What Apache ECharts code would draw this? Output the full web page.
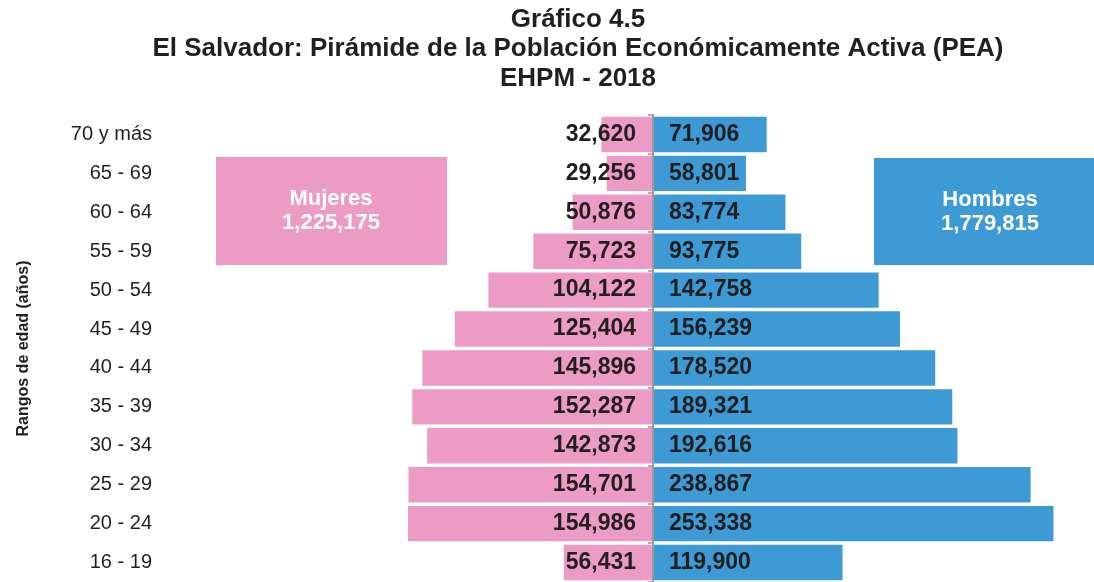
<!DOCTYPE html>
<html>
<head>
<meta charset="utf-8">
<script src="https://cdn.jsdelivr.net/npm/echarts@6/dist/echarts.min.js"></script>
<style>
  html, body { margin: 0; padding: 0; background: #fff; }
  #chart { width: 1094px; height: 582px; }
</style>
</head>
<body>
<div id="chart"></div>
<script>
// rangos de edad, de arriba hacia abajo
var categories = ['70 y más', '65 - 69', '60 - 64', '55 - 59', '50 - 54', '45 - 49',
  '40 - 44', '35 - 39', '30 - 34', '25 - 29', '20 - 24', '16 - 19'];
var mujeres = [32620, 29256, 50876, 75723, 104122, 125404, 145896, 152287, 142873, 154701, 154986, 56431];
var hombres = [71906, 58801, 83774, 93775, 142758, 156239, 178520, 189321, 192616, 238867, 253338, 119900];

var pink = '#ec9bc4';
var blue = '#3e9ad5';
var dark = '#231f20';
var font = 'Liberation Sans, Arial, sans-serif';

function fmt (v) {
  return Math.abs(v).toLocaleString('en-US');
}
var totalM = mujeres.reduce(function (a, b) { return a + b; }, 0);
var totalH = hombres.reduce(function (a, b) { return a + b; }, 0);

var chart = echarts.init(document.getElementById('chart'));
var option = {
  animation: false,
  title: {
    text: 'Gráfico 4.5\nEl Salvador: Pirámide de la Población Económicamente Activa (PEA)\nEHPM - 2018',
    left: 573,
    textAlign: 'center',
    top: 0,
    textStyle: {
      fontFamily: font,
      fontWeight: 'bold',
      fontSize: 26,
      lineHeight: 29.5,
      color: dark
    }
  },
  grid: {
    left: 242,
    right: 30,
    top: 115,
    bottom: -7
  },
  xAxis: {
    type: 'value',
    min: -260000,
    max: 260000,
    show: false
  },
  yAxis: [
    {
      type: 'category',
      data: categories,
      inverse: true,
      axisLine: { show: false, onZero: false },
      axisTick: { show: false },
      axisLabel: {
        margin: 90,
        fontFamily: font,
        fontSize: 20,
        color: dark
      },
      name: 'Rangos de edad (años)',
      nameLocation: 'middle',
      nameGap: 210,
      nameRotate: 90,
      nameTextStyle: {
        fontFamily: font,
        fontWeight: 'bold',
        fontSize: 16,
        color: dark
      }
    },
    {
      // linea central con marcas
      type: 'category',
      data: categories,
      inverse: true,
      position: 'left',
      offset: -411,
      z: 5,
      axisLine: { show: true, onZero: false, lineStyle: { color: '#999999', width: 2 } },
      axisTick: { show: true, length: 5, lineStyle: { color: '#999999', width: 1.5 } },
      axisLabel: { show: false }
    }
  ],
  series: [
    {
      name: 'Mujeres',
      type: 'bar',
      stack: 'pea',
      barCategoryGap: '9%',
      data: mujeres.map(function (v) { return -v; }),
      itemStyle: { color: pink },
      label: {
        show: true,
        position: 'insideRight',
        distance: 17,
        formatter: function (p) { return fmt(p.value); },
        fontFamily: font,
        fontWeight: 'bold',
        fontSize: 23,
        color: dark
      }
    },
    {
      name: 'Hombres',
      type: 'bar',
      stack: 'pea',
      barCategoryGap: '9%',
      data: hombres,
      itemStyle: { color: blue },
      label: {
        show: true,
        position: 'insideLeft',
        distance: 16,
        formatter: function (p) { return fmt(p.value); },
        fontFamily: font,
        fontWeight: 'bold',
        fontSize: 23,
        color: dark
      }
    }
  ],
  graphic: [
    {
      type: 'rect',
      left: 216, top: 157,
      shape: { width: 231, height: 108 },
      style: { fill: pink }
    },
    {
      type: 'text',
      x: 331, y: 211,
      style: {
        text: 'Mujeres\n' + fmt(totalM),
        fill: '#fff',
        font: 'bold 22px "Liberation Sans", Arial, sans-serif',
        lineHeight: 24,
        align: 'center',
        verticalAlign: 'middle'
      }
    },
    {
      type: 'rect',
      left: 874, top: 158,
      shape: { width: 220, height: 107 },
      style: { fill: blue }
    },
    {
      type: 'text',
      x: 990, y: 212,
      style: {
        text: 'Hombres\n' + fmt(totalH),
        fill: '#fff',
        font: 'bold 22px "Liberation Sans", Arial, sans-serif',
        lineHeight: 24,
        align: 'center',
        verticalAlign: 'middle'
      }
    }
  ]
};
option && chart.setOption(option);
</script>
</body>
</html>
